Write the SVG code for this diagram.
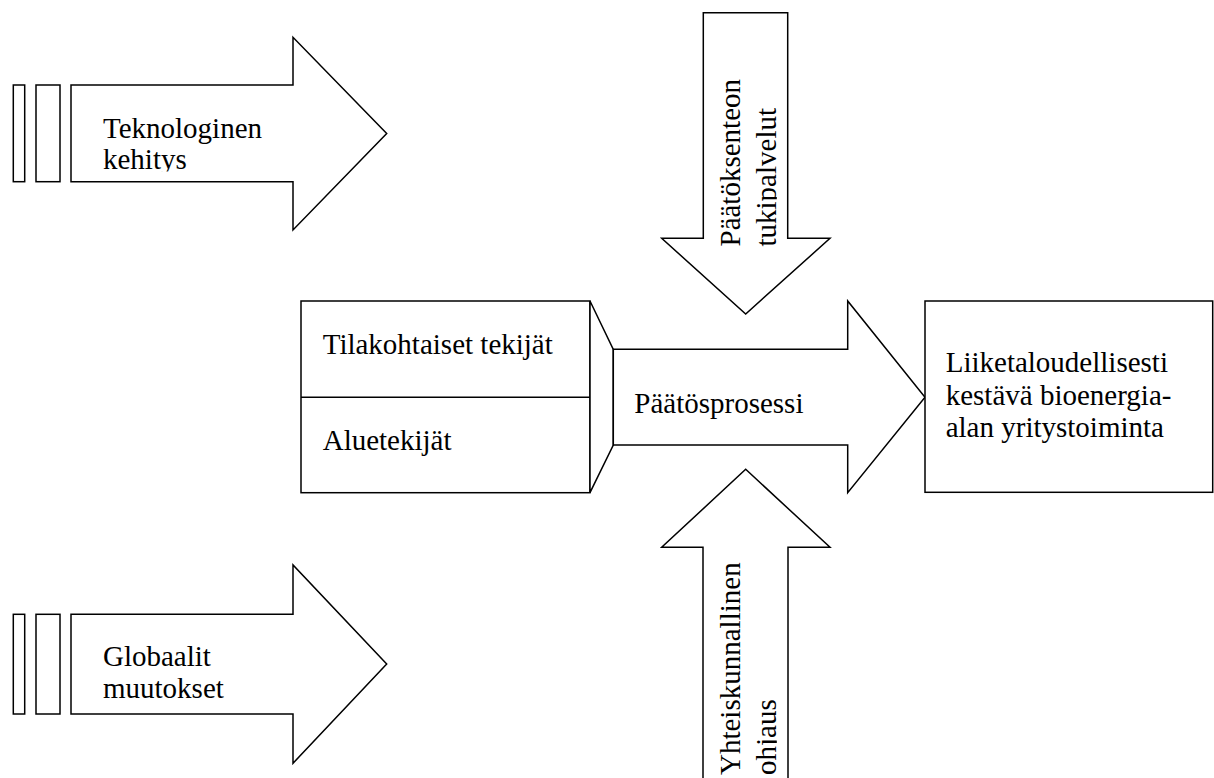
<svg xmlns="http://www.w3.org/2000/svg" width="1214" height="778" viewBox="0 0 1214 778">
  <style>
    .shape { fill: #ffffff; stroke: #000000; stroke-width: 1.5; stroke-linejoin: miter; }
    .line { stroke: #000000; stroke-width: 1.5; fill: none; }
    .label { font-family: "Liberation Serif", "Times New Roman", serif; font-size: 29px; fill: #000000; }
  </style>
  <defs>
    <!-- text frames: descenders past the frame edge are cut off -->
    <clipPath id="clip-tech">
      <rect x="71" y="85" width="222" height="86.5"/>
    </clipPath>
    <clipPath id="clip-support">
      <rect x="704" y="13" width="72.8" height="240"/>
    </clipPath>
    <clipPath id="clip-steering">
      <rect x="704" y="548" width="72.8" height="240"/>
    </clipPath>
  </defs>
  <rect width="1214" height="778" fill="#ffffff"/>

  <!-- Technological development: striped block arrow, upper left -->
  <g id="teknologinen-kehitys">
    <rect class="shape" x="13.3" y="85" width="11.4" height="96.7"/>
    <rect class="shape" x="36" y="85" width="24" height="96.7"/>
    <polygon class="shape" points="71,85 293,85 293,37.3 386.7,133.5 293,230 293,181.7 71,181.7"/>
    <g clip-path="url(#clip-tech)">
      <text class="label" x="103" y="138">Teknologinen</text>
      <text class="label" x="103" y="169.3">kehitys</text>
    </g>
  </g>

  <!-- Global changes: striped block arrow, lower left -->
  <g id="globaalit-muutokset">
    <rect class="shape" x="13.3" y="614.3" width="11.4" height="99.7"/>
    <rect class="shape" x="36" y="614.3" width="24" height="99.7"/>
    <polygon class="shape" points="71,614.3 293,614.3 293,565 386.7,664 293,763.3 293,714 71,714"/>
    <text class="label" x="103" y="666">Globaalit</text>
    <text class="label" x="103" y="698">muutokset</text>
  </g>

  <!-- Decision support services: downward arrow -->
  <g id="paatoksenteon-tukipalvelut">
    <polygon class="shape" points="703.3,12.7 787.7,12.7 787.7,238.3 830,238.3 745.7,314 661.7,238.3 703.3,238.3"/>
    <g clip-path="url(#clip-support)">
      <text class="label" transform="translate(740,246.5) rotate(-90)">Päätöksenteon</text>
      <text class="label" transform="translate(775.5,246.5) rotate(-90)">tukipalvelut</text>
    </g>
  </g>

  <!-- Societal steering: upward arrow running off the bottom edge -->
  <g id="yhteiskunnallinen-ohjaus">
    <polygon class="shape" points="745.7,469.3 830,547.3 788,547.3 788,790 703,790 703,547.3 661.7,547.3"/>
    <g clip-path="url(#clip-steering)">
      <text class="label" transform="translate(739.5,775) rotate(-90)">Yhteiskunnallinen</text>
      <text class="label" transform="translate(775.5,775) rotate(-90)">ohjaus</text>
    </g>
  </g>

  <!-- Farm-specific and regional factors -->
  <g id="tekijat">
    <rect class="shape" x="301" y="301" width="289" height="191.7"/>
    <line class="line" x1="301" y1="397.3" x2="590" y2="397.3"/>
    <polygon class="shape" points="590,301 613.3,349.3 613.3,445 590,492.7"/>
    <text class="label" x="322.7" y="354">Tilakohtaiset tekijät</text>
    <text class="label" x="322.7" y="450">Aluetekijät</text>
  </g>

  <!-- Decision process: main arrow -->
  <g id="paatosprosessi">
    <polygon class="shape" points="613.3,349.3 847.7,349.3 847.7,301 925,397.3 847.7,492.7 847.7,445 613.3,445"/>
    <text class="label" x="634.3" y="413.3">Päätösprosessi</text>
  </g>

  <!-- Outcome box -->
  <g id="yritystoiminta">
    <rect class="shape" x="925" y="301" width="287.7" height="191.3"/>
    <text class="label" x="945.7" y="371.7">Liiketaloudellisesti</text>
    <text class="label" x="945.7" y="405">kestävä bioenergia-</text>
    <text class="label" x="945.7" y="436.7">alan yritystoiminta</text>
  </g>
</svg>
